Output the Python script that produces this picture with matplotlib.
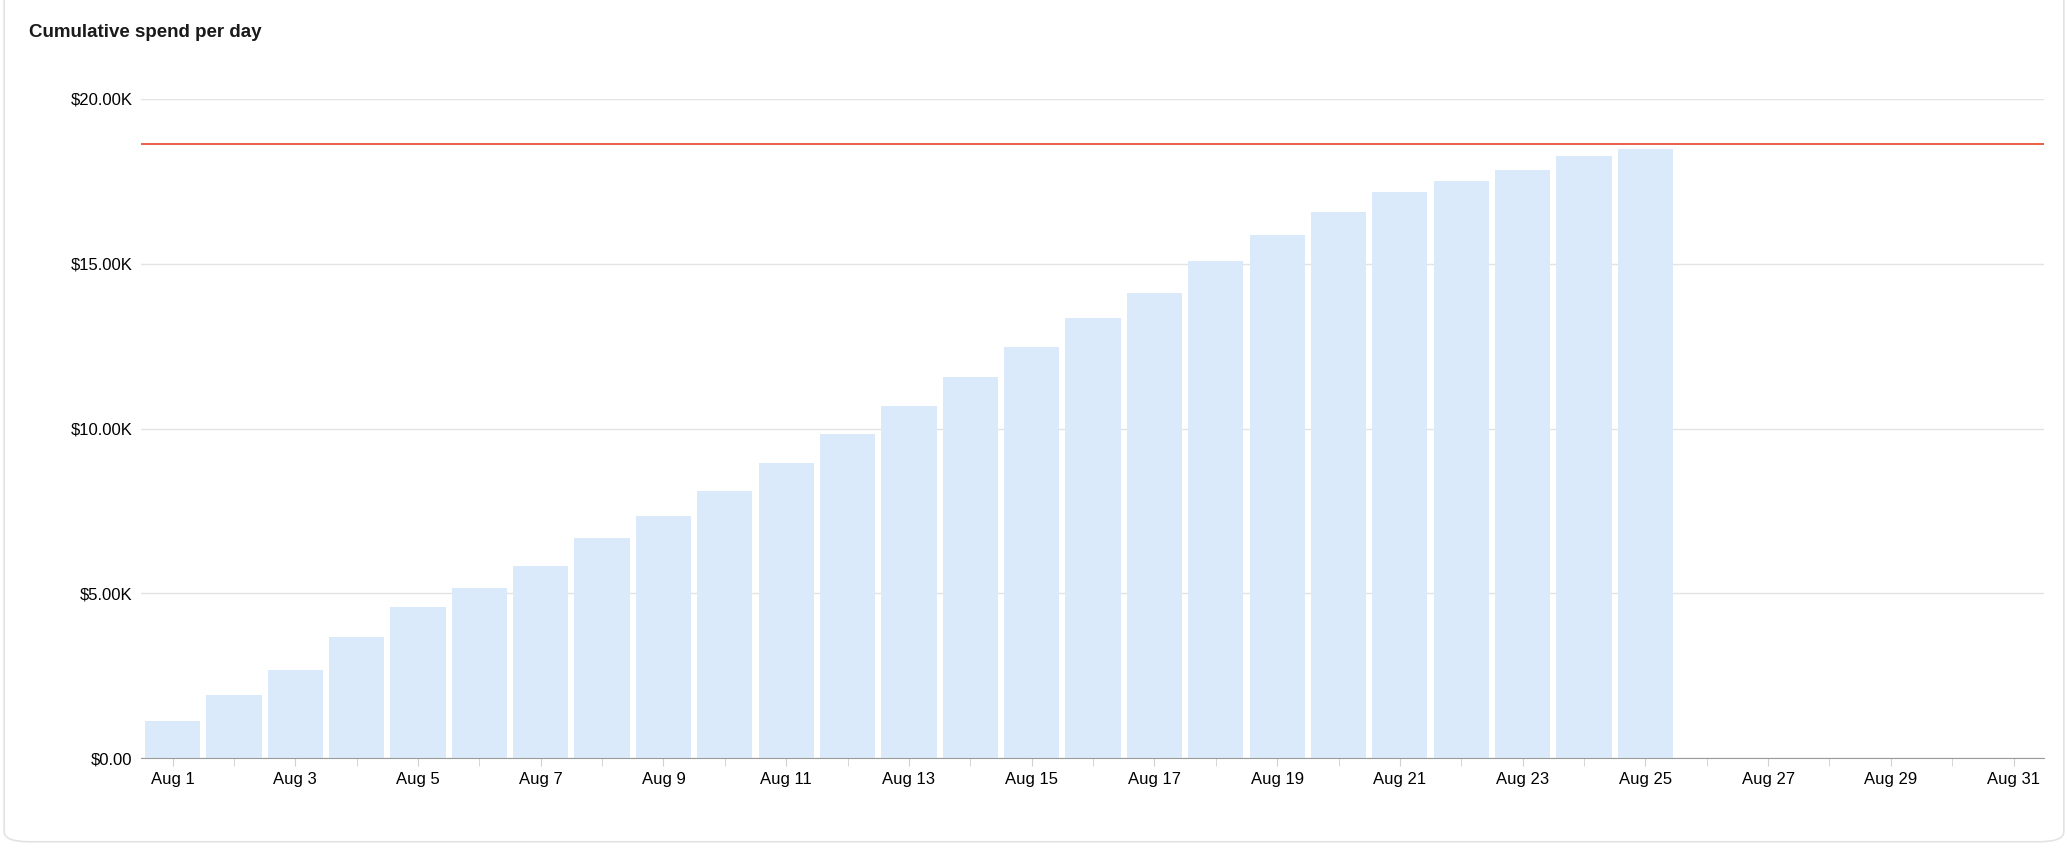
import matplotlib
matplotlib.use("Agg")
import matplotlib.pyplot as plt
from matplotlib.patches import FancyBboxPatch
from matplotlib.ticker import FuncFormatter

days = list(range(1, 32))
spend = [1120, 1920, 2680, 3680, 4600, 5160, 5840, 6680, 7360, 8120, 8960, 9840,
         10680, 11560, 12480, 13360, 14120, 15080, 15880, 16560, 17160, 17520,
         17840, 18280, 18480]
budget = 18640
tick_days = list(range(1, 32, 2))
tick_labels = [f"Aug {d}" for d in tick_days]

plt.rcParams['font.family'] = ['Liberation Sans', 'DejaVu Sans']
fig = plt.figure(figsize=(20.68, 8.52), dpi=100)
card = FancyBboxPatch((0.002, 0.012), 0.996, 1.1, boxstyle="round,pad=0,rounding_size=0.012",
                      transform=fig.transFigure, fc='white', ec='#e3e3e3', lw=1.2, zorder=-10)
fig.patches.append(card)
fig.text(0.014, 0.972, "Cumulative spend per day", fontsize=13.5, fontweight='bold', va='top', color='#1a1a1a')
ax = fig.add_axes([0.068, 0.110, 0.9205, 0.774])
ax.set_zorder(5)
ax.patch.set_alpha(0)
ax.bar(days[:len(spend)], spend, width=0.9, color='#dbeafb', zorder=2)
ax.axhline(budget, color='#e8503a', lw=1.3, zorder=3)
ax.set_xlim(0.48, 31.5)
ax.set_ylim(0, 20000)
ax.set_yticks([0, 5000, 10000, 15000, 20000])
ax.yaxis.set_major_formatter(FuncFormatter(lambda v, p: f"${v/1000:.2f}K" if v else "$0.00"))
ax.grid(axis='y', color='#e3e3e3', lw=1, zorder=0)
ax.set_xticks(tick_days)
ax.set_xticklabels(tick_labels)
ax.set_xticks(days, minor=True)
ax.tick_params(axis='x', which='both', length=6, color='#d0d0d0', labelsize=12, pad=4)
ax.tick_params(axis='y', length=0, labelsize=12, pad=6)
for s in ['top', 'right', 'left']:
    ax.spines[s].set_visible(False)
ax.spines['bottom'].set_color('#9a9a9a')
fig.savefig("out.png", dpi=100)
